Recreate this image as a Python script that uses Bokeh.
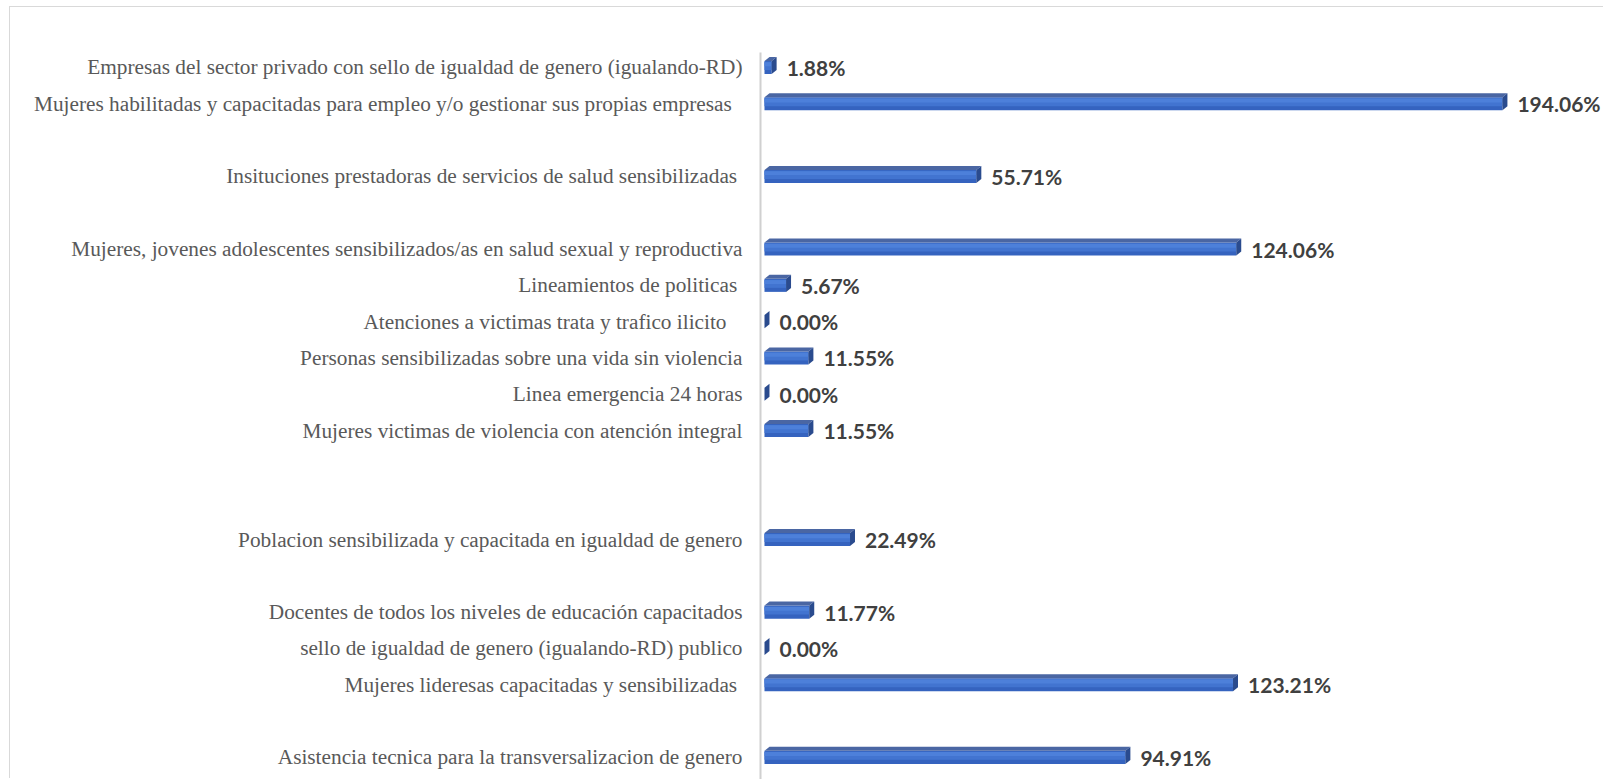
from bokeh.plotting import figure
from bokeh.models import Range1d, FixedTicker, ColumnDataSource
from bokeh.core.properties import value
from bokeh.embed import file_html
from bokeh.resources import INLINE

categories = [
    "Empresas del sector privado con sello de igualdad de genero (igualando-RD)",
    "Mujeres habilitadas y capacitadas  para  empleo y/o gestionar sus propias empresas",
    "",
    "Insituciones prestadoras de servicios de salud sensibilizadas ",
    "",
    "Mujeres, jovenes adolescentes sensibilizados/as en salud sexual y reproductiva",
    "Lineamientos de politicas ",
    "Atenciones a victimas  trata y trafico ilicito  ",
    "Personas sensibilizadas sobre una vida sin violencia",
    "Linea emergencia 24 horas",
    "Mujeres victimas de violencia con atención integral",
    "",
    "",
    "Poblacion sensibilizada y capacitada en igualdad de genero",
    "",
    "Docentes de todos los niveles de educación capacitados",
    "sello de igualdad de genero (igualando-RD) publico",
    "Mujeres lideresas capacitadas y sensibilizadas ",
    "",
    "Asistencia tecnica para la transversalizacion de genero",
]
values = [1.88, 194.06, None, 55.71, None, 124.06, 5.67, 0.00, 11.55, 0.00,
          11.55, None, None, 22.49, None, 11.77, 0.00, 123.21, None, 94.91]
value_labels = ["1.88%", "194.06%", "", "55.71%", "", "124.06%", "5.67%", "0.00%",
                "11.55%", "0.00%", "11.55%", "", "", "22.49%", "", "11.77%", "0.00%",
                "123.21%", "", "94.91%"]

rows = [i for i, v in enumerate(values) if v is not None]
vals = [values[i] for i in rows]
labs = [value_labels[i] for i in rows]

# 3D bar geometry (data units)
h = 0.36     # front face height (rows)
dy = 0.11    # depth upward (rows)
dx = 1.31    # depth rightward (%)

p = figure(width=1594, height=772, output_backend="svg", toolbar_location=None,
           x_range=Range1d(-1.05, 220.9), y_range=Range1d(19.61, -0.413),
           min_border_left=750, min_border_right=0, min_border_top=45,
           min_border_bottom=0)
p.outline_line_color = None
p.xgrid.visible = False
p.ygrid.visible = False
p.xaxis.visible = False
p.background_fill_color = "white"
p.border_fill_color = "white"
p.styles = {"margin-left": "10px", "margin-top": "7px",
            "box-shadow": "-1px -1px 0 0 #d9d9d9"}

ax = p.yaxis[0]
ax.ticker = FixedTicker(ticks=[i for i, c in enumerate(categories) if c])
ax.major_label_overrides = {i: c for i, c in enumerate(categories) if c}
ax.major_tick_line_color = None
ax.minor_tick_line_color = None
ax.major_tick_out = 0
ax.major_tick_in = 0
ax.axis_line_color = "#d0d0d0"
ax.axis_line_width = 2
ax.major_label_standoff = 18
ax.major_label_text_font = "Liberation Serif"
ax.major_label_text_font_size = "21.3px"
ax.major_label_text_color = "#595959"

# front face with banded shading
src = ColumnDataSource(dict(y=rows, v=vals, lab=labs))
p.hbar(y="y", left=0, right="v", height=h, source=src,
       fill_color="#3563bf", line_color=None)
p.hbar(y=[r - h * 0.12 for r in rows], left=0, right=vals, height=h * 0.62,
       fill_color="#4274d0", line_color=None)
p.hbar(y=[r - h * 0.25 for r in rows], left=0, right=vals, height=h * 0.3,
       fill_color="#4d80da", line_color=None)

# top face
top_xs = [[0, v, v + dx, dx] for v in vals]
top_ys = [[r - h / 2, r - h / 2, r - h / 2 - dy, r - h / 2 - dy] for r in rows]
p.patches(top_xs, top_ys, fill_color="#4a66a3", line_color=None)

# side face
side_xs = [[v, v + dx, v + dx, v] for v in vals]
side_ys = [[r + h / 2, r + h / 2 - dy, r - h / 2 - dy, r - h / 2] for r in rows]
p.patches(side_xs, side_ys, fill_color="#2a4b8e", line_color=None)

# value labels
p.text(x="v", y="y", text="lab", source=src, x_offset=15,
       text_font=value("Lato"), text_font_style="bold", text_font_size="21px",
       text_color="#404040", text_baseline="middle", text_align="left")

open("out.html", "w").write(file_html(p, INLINE))
